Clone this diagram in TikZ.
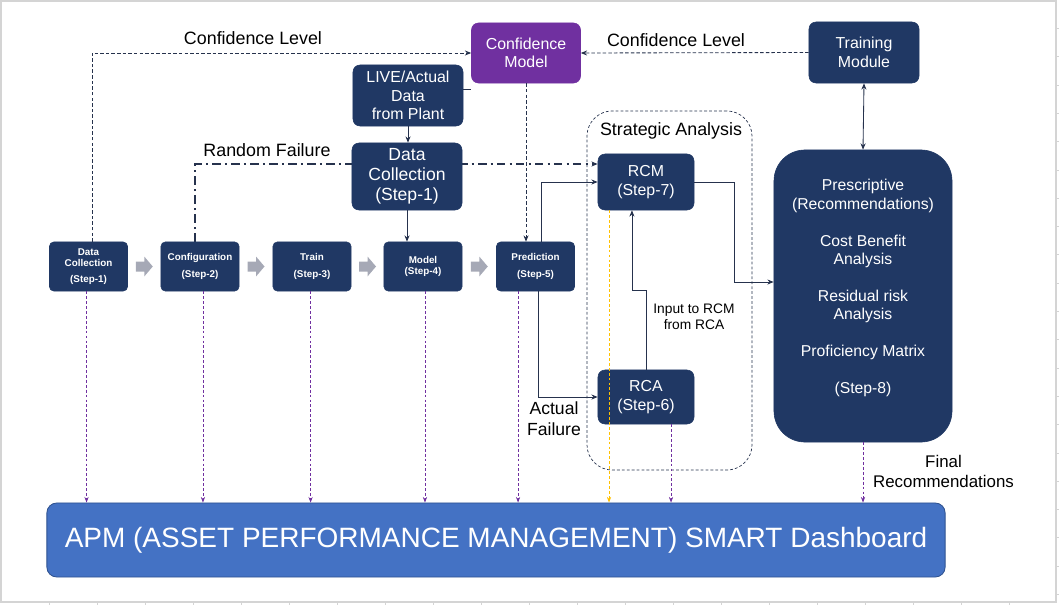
\documentclass[tikz,border=0pt]{standalone}
\usepackage{fontspec}
\setmainfont{Liberation Sans}
\usetikzlibrary{calc,arrows.meta,backgrounds}

\definecolor{navy}{HTML}{203864}
\definecolor{confpurple}{HTML}{7030A0}
\definecolor{apmblue}{HTML}{4472C4}
\definecolor{apmedge}{HTML}{2F528F}
\definecolor{flowgray}{HTML}{A6A9B6}
\definecolor{linec}{HTML}{26324D}
\definecolor{gridc}{HTML}{D4D4D4}
\definecolor{tipyellow}{HTML}{FFC000}

\begin{document}
\begin{tikzpicture}[x=0.025cm,y=-0.025cm,
  >={Stealth[length=4.5pt,width=3.6pt]},
  stepbox/.style={rectangle,rounded corners=3pt,fill=navy,draw=navy,text=white,minimum width=1.95cm,minimum height=1.225cm,align=center,inner sep=1pt,font=\fontsize{7}{8}\selectfont\bfseries},
  midbox/.style={rectangle,rounded corners=5pt,fill=navy,draw=navy,text=white,align=center,inner sep=1pt,font=\fontsize{11.3}{13.1}\selectfont},
  note/.style={align=center,inner sep=1pt,font=\fontsize{12.7}{15}\selectfont},
  conn/.style={linec,line width=0.6pt},
  confline/.style={linec,line width=0.6pt,dash pattern=on 2.5pt off 1.5pt},
  randline/.style={linec,line width=1.1pt,dash pattern=on 6pt off 3pt on 1.5pt off 3pt},
  dashp/.style={confpurple,line width=0.5pt,dash pattern=on 2pt off 1.5pt,-{Stealth[length=4pt,width=3pt]}}
]
\useasboundingbox (0,0) rectangle (1059,605);

% sheet border
\draw[gridc,line width=0.8pt] (1,1) rectangle (1056,602);
\foreach \k in {1,...,21} \draw[gridc] (1056,28.3*\k) -- (1059,28.3*\k);
\foreach \k in {1,...,21} \draw[gridc] (48*\k+1,602) -- (48*\k+1,605);

% top row
\node[midbox,fill=confpurple,draw=confpurple,minimum width=2.725cm,minimum height=1.5cm] (confm) at (526,53) {Confidence\\Model};
\node[midbox,minimum width=2.75cm,minimum height=1.525cm] (train) at (864,52.5) {Training\\Module};
\node[midbox,minimum width=2.75cm,minimum height=1.525cm] (live) at (408,95.5) {LIVE/Actual\\Data\\from Plant};
\node[midbox,minimum width=2.75cm,minimum height=1.675cm,font=\fontsize{12.5}{14.2}\selectfont] (dcbig) at (407,176.5) {Data\\Collection\\(Step-1)};

% steps
\node[stepbox] (s1) at (88.5,266.5) {Data\\Collection\\[3pt](Step-1)};
\node[stepbox] (s2) at (200,266.5) {Configuration\\[4pt](Step-2)};
\node[stepbox] (s3) at (312,266.5) {Train\\[4pt](Step-3)};
\node[stepbox] (s4) at (423,266.5) {Model\\(Step-4)};
\node[stepbox] (s5) at (535.5,266.5) {Prediction\\[4pt](Step-5)};

\foreach \a/\b in {s1/s2,s2/s3,s3/s4,s4/s5}
  \fill[flowgray] ($(\a.east)!0.5!(\b.west)$) ++(-8.5,-5) -- ++(8.5,0) -- ++(0,-5) -- ++(8.5,10) -- ++(-8.5,10) -- ++(0,-5) -- ++(-8.5,0) -- cycle;

% strategic analysis
\node[rectangle,draw=linec,line width=0.5pt,dash pattern=on 2pt off 1.5pt,rounded corners=18pt,minimum width=4.125cm,minimum height=8.975cm] (strat) at (669.5,290.5) {};
\node[note] (stratlbl) at (671,131) {Strategic Analysis};
\node[midbox,minimum width=2.4cm,minimum height=1.4cm] (rcm) at (646,182) {RCM\\(Step-7)};
\node[midbox,minimum width=2.4cm,minimum height=1.35cm] (rca) at (646,397) {RCA\\(Step-6)};

% step 8
\node[rectangle,rounded corners=22pt,fill=navy,draw=navy,minimum width=4.45cm,minimum height=7.3cm] (presc) at (863,296) {};
\node[midbox,fill=none,draw=none,font=\fontsize{11.2}{13.1}\selectfont] (presctext) at (863,288) {Prescriptive\\(Recommendations)\\[13.1pt]Cost Benefit\\Analysis\\[13.1pt]Residual risk\\Analysis\\[13.1pt]Proficiency Matrix\\[13.1pt](Step-8)};

% dashboard
\node[rectangle,rounded corners=7pt,fill=apmblue,draw=apmedge,line width=0.6pt,text=white,minimum width=22.45cm,minimum height=1.85cm,font=\fontsize{19.9}{24}\selectfont] (apm) at (496,540) {APM (ASSET PERFORMANCE MANAGEMENT) SMART Dashboard};

% labels
\node[note] (conflvl) at (253,38.5) {Confidence Level};
\node[note] (conflvr) at (676,40) {Confidence Level};
\node[note] (randfail) at (267,150.5) {Random Failure};
\node[note,font=\fontsize{9.8}{11.4}\selectfont] (rcainput) at (694,317) {Input to RCM\\from RCA};
\node[note,font=\fontsize{12.5}{15}\selectfont] (actfail) at (554,418.5) {Actual\\Failure};
\node[note,font=\fontsize{12}{14.2}\selectfont] (finalrec) at (943.5,471.5) {Final\\Recommendations};

% connectors
\draw[confline,->] ([xshift=2.5pt]s1.north) |- (confm.west);
\draw[confline,->] (train.west) -- (confm.east);
\coordinate (livestub) at ([yshift=4.6pt]live.east);
\draw[conn] (livestub) -- (livestub -| confm.west);
\draw[conn,->] (live.south) -- (live.south |- dcbig.north);
\draw[conn,->] (dcbig.south) -- (dcbig.south |- s4.north);
\draw[confline,->] (confm.south) -- (confm.south |- s5.north);
\begin{scope}[on background layer]
\draw[randline,->] ([xshift=-3.5pt]s2.north) |- ([yshift=12.8pt]rcm.west);
\end{scope}
\draw[conn,->] ([xshift=4.5pt]s5.north) |- (rcm.west);
\draw[conn,->] ([xshift=2.2pt]s5.south) |- (rca.west);
\coordinate (rcaup) at (646,290);
\draw[conn,->] (rca.north) -- (rca.north |- rcaup) -| ([xshift=-10pt]rcm.south);
\coordinate (rcmbend) at (734.5,282);
\draw[conn,->] (rcm.east) -| (rcmbend) -- (rcmbend -| presc.west);
\draw[conn,<->] (train.south) -- (presc.north);

\foreach \n/\dx in {s1/-1.4pt,s2/2.1pt,s3/-1pt,s4/1.4pt,s5/-12.4pt,rca/17.8pt,presc/0pt}
  \draw[dashp] ([xshift=\dx]\n.south) -- ([xshift=\dx]\n.south |- apm.north);
\draw[dashp,tipyellow,line width=0.7pt] ([xshift=-26.3pt]rcm.south) -- ([xshift=-26.3pt]rcm.south |- apm.north);

\end{tikzpicture}
\end{document}
